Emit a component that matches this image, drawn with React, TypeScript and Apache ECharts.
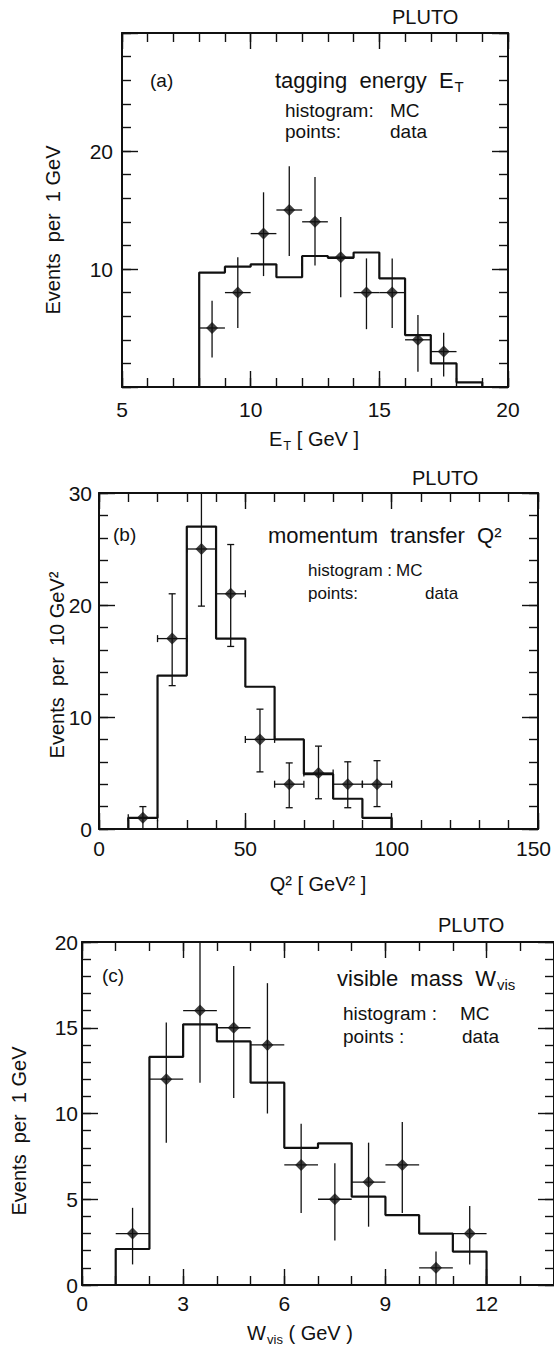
import React, { useEffect, useRef } from "react";
import * as echarts from "echarts";

// ---------- Panel (a): tagging energy E_T ----------
const aEdges = [8, 9, 10, 11, 12, 13, 14, 15, 16, 17, 18, 19];
const aMC = [9.7, 10.2, 10.4, 9.3, 11.1, 10.95, 11.4, 9.2, 4.4, 2.0, 0.4];
const aX = [8.5, 9.5, 10.5, 11.5, 12.5, 13.5, 14.5, 15.5, 16.5, 17.5];
const aData = [5, 8, 13, 15, 14, 11, 8, 8, 4, 3];
const aLo = [2.5, 5.0, 9.4, 11.1, 10.3, 7.6, 4.9, 5.0, 1.3, 0.9];
const aHi = [7.3, 11.0, 16.5, 18.7, 17.8, 14.4, 10.9, 10.9, 6.1, 4.6];
const aXTicks = [5, 10, 15, 20];
const aYTicks = [10, 20];

// ---------- Panel (b): momentum transfer Q^2 ----------
const bEdges = [10, 20, 30, 40, 50, 60, 70, 80, 90, 100];
const bMC = [1.0, 13.7, 27.0, 17.0, 12.7, 8.0, 4.9, 2.7, 1.0];
const bX = [15, 25, 35, 45, 55, 65, 75, 85, 95];
const bData = [1, 17, 25, 21, 8, 4, 5, 4, 4];
const bLo = [0, 12.8, 19.9, 16.3, 5.1, 1.9, 2.7, 1.9, 2.0];
const bHi = [2.0, 21.0, 30.5, 25.4, 10.7, 5.9, 7.4, 6.0, 6.1];
const bXTicks = [0, 50, 100, 150];
const bYTicks = [0, 10, 20, 30];

// ---------- Panel (c): visible mass W_vis ----------
const cEdges = [1, 2, 3, 4, 5, 6, 7, 8, 9, 10, 11, 12];
const cMC = [2.1, 13.3, 15.2, 14.2, 11.8, 8.0, 8.26, 5.15, 4.08, 3.0, 1.95];
const cX = [1.5, 2.5, 3.5, 4.5, 5.5, 6.5, 7.5, 8.5, 9.5, 10.5, 11.5];
const cData = [3, 12, 16, 15, 14, 7, 5, 6, 7, 1, 3];
const cLo = [1.2, 8.3, 11.8, 10.9, 10.0, 4.2, 2.6, 3.4, 4.2, 0, 1.2];
const cHi = [4.5, 15.3, 21.0, 18.6, 17.6, 9.4, 7.1, 8.3, 9.5, 1.95, 4.6];
const cXTicks = [0, 3, 6, 9, 12];
const cYTicks = [0, 5, 10, 15, 20];

const FONT = '"Liberation Sans", Arial, Helvetica, sans-serif';
const INK = "#111";

function histLine(edges: number[], vals: number[]) {
  const d: number[][] = [[edges[0], 0]];
  for (let i = 0; i < vals.length; i++) d.push([edges[i], vals[i]]);
  d.push([edges[edges.length - 1], 0]);
  return d;
}

function errRows(xs: number[], ys: number[], lo: number[], hi: number[], edges: number[]) {
  return xs.map((x, i) => [x, ys[i], lo[i], hi[i], edges[i], edges[i + 1]]);
}

type PanelDef = {
  grid: { left: number; top: number; width: number; height: number };
  x: [number, number, number, number];
  y: [number, number, number, number];
  xTicks: number[];
  yTicks: number[];
  xMargin: number;
  yMargin: number;
  caps: boolean;
  edges: number[];
  mc: number[];
  px: number[];
  py: number[];
  lo: number[];
  hi: number[];
  binEdges: number[];
  shiftMax: boolean;
};

const panels: PanelDef[] = [
  {
    grid: { left: 122, top: 33, width: 386, height: 354 },
    x: [5, 20, 5, 1],
    y: [0, 30, 10, 2],
    xTicks: aXTicks,
    yTicks: aYTicks,
    xMargin: 12,
    yMargin: 9,
    caps: false,
    edges: aEdges,
    mc: aMC,
    px: aX,
    py: aData,
    lo: aLo,
    hi: aHi,
    binEdges: aEdges,
    shiftMax: false,
  },
  {
    grid: { left: 99, top: 493, width: 439, height: 336 },
    x: [0, 150, 50, 10],
    y: [0, 30, 10, 2],
    xTicks: bXTicks,
    yTicks: bYTicks,
    xMargin: 9,
    yMargin: 7,
    caps: true,
    edges: bEdges,
    mc: bMC,
    px: bX,
    py: bData,
    lo: bLo,
    hi: bHi,
    binEdges: bEdges,
    shiftMax: true,
  },
  {
    grid: { left: 82, top: 942, width: 472, height: 343 },
    x: [0, 14, 3, 1],
    y: [0, 20, 5, 1],
    xTicks: cXTicks,
    yTicks: cYTicks,
    xMargin: 8,
    yMargin: 4,
    caps: false,
    edges: cEdges,
    mc: cMC,
    px: cX,
    py: cData,
    lo: cLo,
    hi: cHi,
    binEdges: cEdges,
    shiftMax: false,
  },
];

function buildOption() {
  const grid: any[] = [];
  const xAxis: any[] = [];
  const yAxis: any[] = [];
  const series: any[] = [];

  panels.forEach((p, i) => {
    grid.push({ ...p.grid, containLabel: false, outerBoundsMode: "none" });
    const lineStyle = { color: INK, width: 2 };
    const tickStyle = { color: INK, width: 1.4 };
    const labelBase = { color: INK, fontSize: 21, fontFamily: FONT };

    const mkX = (pos: string, major: boolean, labels: boolean) => ({
      type: "value",
      gridIndex: i,
      position: pos,
      min: p.x[0],
      max: p.x[1],
      interval: major ? p.x[2] : p.x[3],
      axisLine: { show: major, onZero: false, lineStyle },
      axisTick: { show: true, inside: true, length: major ? 16 : 9, lineStyle: tickStyle },
      axisLabel: labels
        ? {
            ...labelBase,
            margin: p.xMargin,
            rich: { m: { fontSize: 21, fontFamily: FONT, color: INK, padding: [0, 9, 0, 0] } },
            formatter: (v: number) => {
              if (!p.xTicks.includes(v)) return "";
              if (p.shiftMax && v === p.x[1]) return "{m|" + v + "}";
              return String(v);
            },
          }
        : { show: false },
      splitLine: { show: false },
    });
    const mkY = (pos: string, major: boolean, labels: boolean) => ({
      type: "value",
      gridIndex: i,
      position: pos,
      min: p.y[0],
      max: p.y[1],
      interval: major ? p.y[2] : p.y[3],
      axisLine: { show: major, onZero: false, lineStyle },
      axisTick: { show: true, inside: true, length: major ? 16 : 9, lineStyle: tickStyle },
      axisLabel: labels
        ? {
            ...labelBase,
            margin: p.yMargin,
            formatter: (v: number) => (p.yTicks.includes(v) ? String(v) : ""),
          }
        : { show: false },
      splitLine: { show: false },
    });

    const xBase = xAxis.length;
    xAxis.push(mkX("bottom", true, true), mkX("bottom", false, false), mkX("top", true, false), mkX("top", false, false));
    const yBase = yAxis.length;
    yAxis.push(mkY("left", true, true), mkY("left", false, false), mkY("right", true, false), mkY("right", false, false));

    series.push({
      type: "line",
      name: "MC",
      xAxisIndex: xBase,
      yAxisIndex: yBase,
      step: "end",
      showSymbol: false,
      symbol: "none",
      data: histLine(p.edges, p.mc),
      lineStyle: { color: INK, width: 2.2 },
      z: 3,
    });

    const caps = p.caps;
    series.push({
      type: "custom",
      name: "errors",
      xAxisIndex: xBase,
      yAxisIndex: yBase,
      clip: true,
      encode: { x: [0, 4, 5], y: [1, 2, 3] },
      data: errRows(p.px, p.py, p.lo, p.hi, p.binEdges),
      renderItem: (params: any, api: any) => {
        const x = api.value(0);
        const y = api.value(1);
        const lo = api.value(2);
        const hi = api.value(3);
        const xl = api.value(4);
        const xh = api.value(5);
        const pLo = api.coord([x, lo]);
        const pHi = api.coord([x, hi]);
        const pL = api.coord([xl, y]);
        const pR = api.coord([xh, y]);
        const st = { stroke: INK, lineWidth: 1.3 };
        const children: any[] = [
          { type: "line", shape: { x1: pLo[0], y1: pLo[1], x2: pHi[0], y2: pHi[1] }, style: st },
          { type: "line", shape: { x1: pL[0], y1: pL[1], x2: pR[0], y2: pR[1] }, style: st },
        ];
        if (caps) {
          const c = 3.5;
          children.push(
            { type: "line", shape: { x1: pLo[0] - c, y1: pLo[1], x2: pLo[0] + c, y2: pLo[1] }, style: st },
            { type: "line", shape: { x1: pHi[0] - c, y1: pHi[1], x2: pHi[0] + c, y2: pHi[1] }, style: st },
            { type: "line", shape: { x1: pL[0], y1: pL[1] - c, x2: pL[0], y2: pL[1] + c }, style: st },
            { type: "line", shape: { x1: pR[0], y1: pR[1] - c, x2: pR[0], y2: pR[1] + c }, style: st }
          );
        }
        return { type: "group", children };
      },
      z: 4,
    });

    series.push({
      type: "scatter",
      name: "data",
      xAxisIndex: xBase,
      yAxisIndex: yBase,
      symbol: "diamond",
      symbolSize: 12,
      itemStyle: { color: INK },
      data: p.px.map((x, k) => [x, p.py[k]]),
      z: 5,
    });
  });

  const txt = (x: number, y: number, text: string, size: number, extra: any = {}) => ({
    type: "text",
    x,
    y,
    silent: true,
    style: {
      text,
      fill: INK,
      fontSize: size,
      fontFamily: FONT,
      align: "left",
      verticalAlign: "middle",
      textAlign: "left",
      textVerticalAlign: "middle",
      ...extra,
    },
  });

  const rich = (size: number) => ({
    n: { fontSize: size, fontFamily: FONT, fill: INK, color: INK },
    s: { fontSize: Math.round(size * 0.66), fontFamily: FONT, fill: INK, color: INK, padding: [Math.round(size * 0.6), 0, 0, 1] },
  });

  const centered = { align: "center", textAlign: "center" };

  const graphic: any[] = [
    // panel (a)
    txt(392, 17, "PLUTO", 20),
    txt(150, 80, "(a)", 19),
    txt(275, 80, "{n|tagging  energy  E}{s|T}", 22, { rich: rich(22) }),
    txt(285, 110, "histogram:", 19),
    txt(390, 110, "MC", 19),
    txt(285, 131, "points:", 19),
    txt(390, 131, "data", 19),
    txt(314, 439, "{n|E}{s|T}{n| [ GeV ]}", 20, { rich: rich(20), ...centered }),
    {
      ...txt(53, 230, "Events  per  1 GeV", 20, centered),
      rotation: Math.PI / 2,
    },
    // panel (b)
    txt(412, 478, "PLUTO", 20),
    txt(113, 534, "(b)", 19),
    txt(268, 535, "momentum  transfer  Q²", 22),
    txt(308, 570, "histogram :", 17),
    txt(396, 570, "MC", 17),
    txt(308, 593, "points:", 17),
    txt(425, 593, "data", 17),
    txt(318, 884, "Q² [ GeV² ]", 20, centered),
    {
      ...txt(57, 665, "Events  per  10 GeV²", 20, centered),
      rotation: Math.PI / 2,
    },
    // panel (c)
    txt(438, 925, "PLUTO", 20),
    txt(102, 975, "(c)", 19),
    txt(337, 978, "{n|visible  mass  W}{s|vis}", 22, { rich: rich(22) }),
    txt(343, 1013, "histogram :", 19),
    txt(460, 1013, "MC", 19),
    txt(343, 1036, "points :", 19),
    txt(462, 1036, "data", 19),
    txt(300, 1333, "{n|W}{s|vis}{n| ( GeV )}", 20, { rich: rich(20), ...centered }),
    {
      ...txt(19, 1131, "Events  per  1 GeV", 20, centered),
      rotation: Math.PI / 2,
    },
  ];

  return {
    animation: false,
    backgroundColor: "#fff",
    grid,
    xAxis,
    yAxis,
    series,
    graphic,
  };
}

export default function App() {
  const ref = useRef<HTMLDivElement>(null);
  useEffect(() => {
    document.body.style.margin = "0";
    if (!ref.current) return;
    const chart = echarts.init(ref.current, undefined, { renderer: "svg" });
    chart.setOption(buildOption() as any);
    return () => chart.dispose();
  }, []);
  return <div ref={ref} style={{ width: 554, height: 1351 }} />;
}
